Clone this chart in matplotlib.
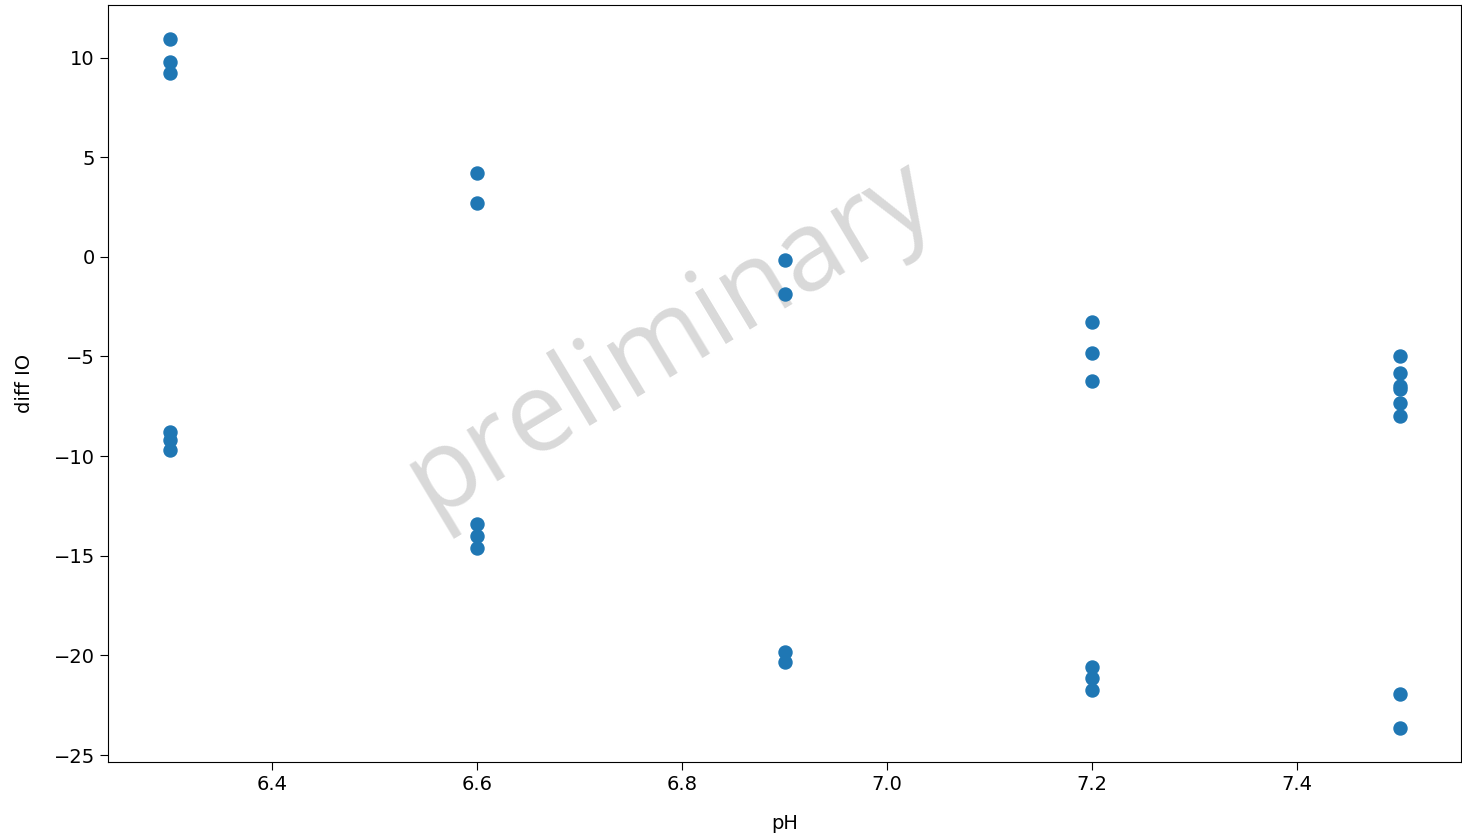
import matplotlib
matplotlib.use("Agg")
import matplotlib.pyplot as plt

ph = [6.3, 6.3, 6.3, 6.3, 6.3, 6.3,
      6.6, 6.6, 6.6, 6.6, 6.6,
      6.9, 6.9, 6.9, 6.9,
      7.2, 7.2, 7.2, 7.2, 7.2, 7.2,
      7.5, 7.5, 7.5, 7.5, 7.5, 7.5, 7.5, 7.5]
diff_io = [10.91, 9.8, 9.2, -8.78, -9.18, -9.68,
           4.21, 2.68, -13.39, -13.99, -14.59,
           -0.18, -1.86, -19.81, -20.31,
           -3.26, -4.81, -6.22, -20.56, -21.11, -21.72,
           -5.0, -5.84, -6.5, -6.62, -7.31, -8.01, -21.92, -23.62]

fig = plt.figure(figsize=(14.62, 8.35), dpi=100)
ax = fig.add_axes([108/1462, 1-762/835, (1461-108)/1462, (762-5)/835])
ax.scatter(ph, diff_io, s=88, color="#1f77b4", zorder=3)
ax.set_xlabel("pH", fontsize=14, labelpad=14)
ax.set_ylabel("diff IO", fontsize=14, labelpad=14)
ax.tick_params(labelsize=14, length=6)
ax.text(0.415, 0.56, "preliminary", transform=ax.transAxes, fontsize=80,
        family="Open Sans", color="#d9d9d9",
        rotation=31, ha="center", va="center", zorder=1)
fig.savefig("out.png", dpi=100)
